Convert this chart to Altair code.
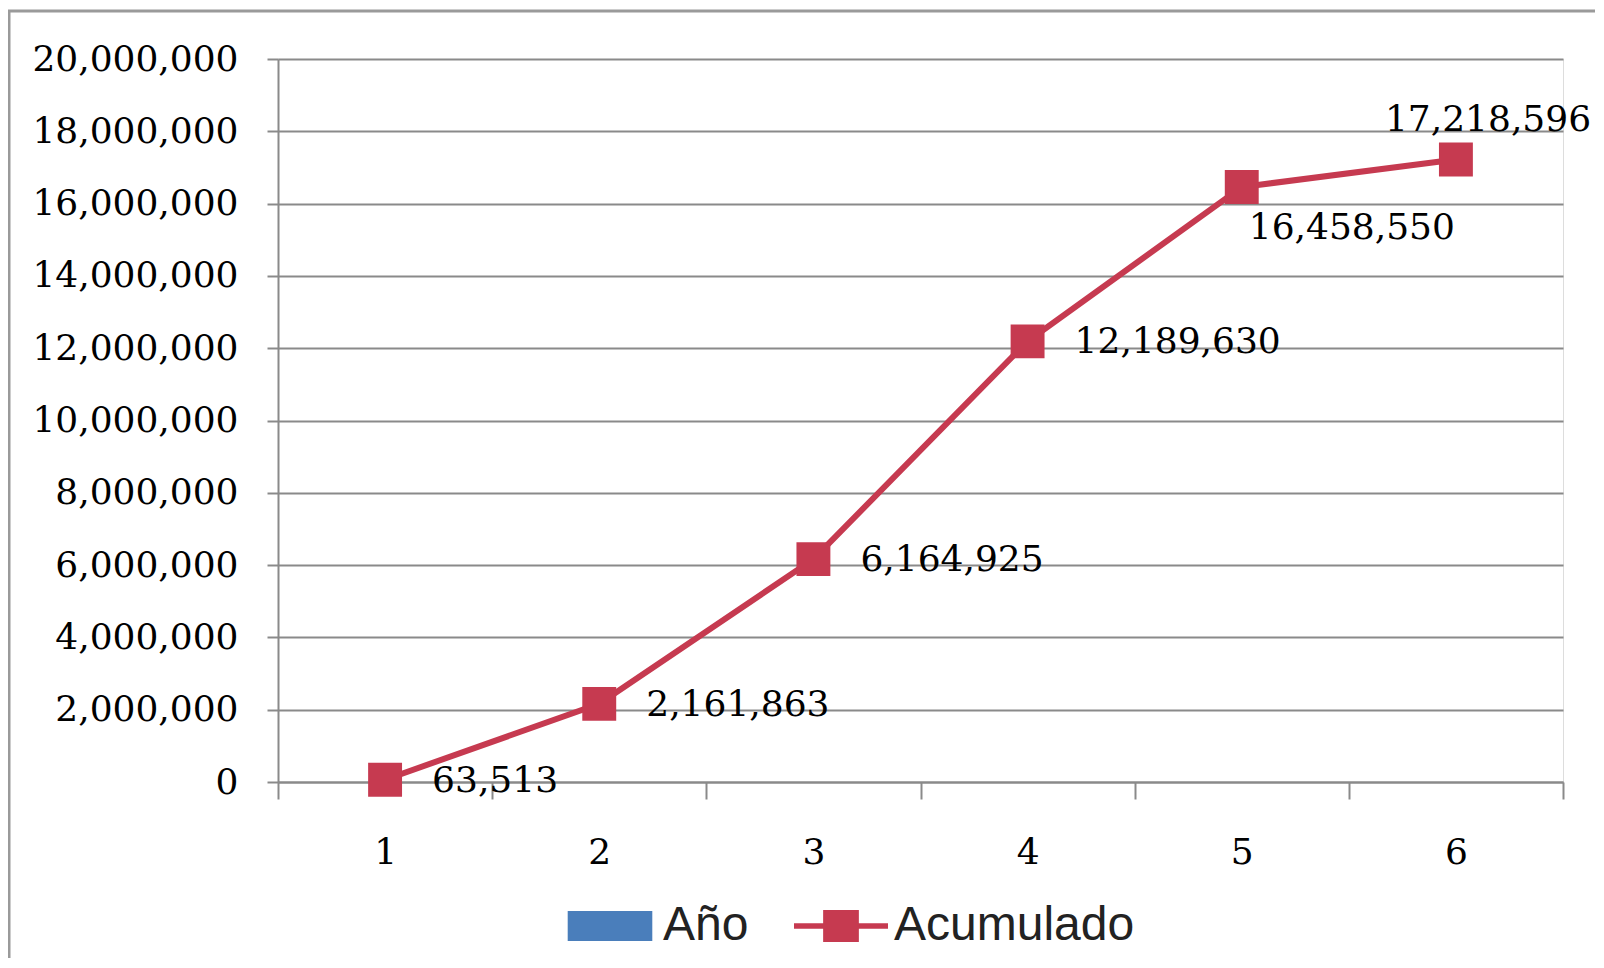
import altair as alt
import pandas as pd

# ---- data ----
periodos = ["1", "2", "3", "4", "5", "6"]
acumulado = [63513, 2161863, 6164925, 12189630, 16458550, 17218596]
posicion_etiqueta = ["right", "right", "right", "right", "below", "above"]
series = ["Año", "Acumulado"]
y_ticks = [0, 2000000, 4000000, 6000000, 8000000, 10000000,
           12000000, 14000000, 16000000, 18000000, 20000000]

df = pd.DataFrame({"periodo": periodos, "valor": acumulado, "pos": posicion_etiqueta})

W, H = 1285, 723
RED = "#C63A50"
BLUE = "#4A7EBB"
GRID = "#8a8a8a"
TXT = "#000000"
SERIF = "DejaVu Serif"

x_enc = alt.X(
    "periodo:N", sort=periodos, title=None,
    scale=alt.Scale(type="band", paddingInner=0, paddingOuter=0),
    axis=alt.Axis(labelAngle=0, tickBand="extent", domainColor=GRID, domainWidth=2,
                  tickColor=GRID, tickWidth=2, tickSize=17, grid=False,
                  labelFont=SERIF, labelFontSize=36, labelColor=TXT,
                  labelBaseline="middle", labelPadding=53),
)
y_enc = alt.Y(
    "valor:Q", title=None,
    scale=alt.Scale(domain=[0, 20000000], nice=False),
    axis=alt.Axis(values=y_ticks, labelExpr="format(datum.value, ',')",
                  grid=True, gridColor=GRID, gridWidth=2,
                  domainColor=GRID, domainWidth=2, tickColor=GRID, tickWidth=2,
                  tickSize=11, labelFont=SERIF, labelFontSize=36, labelColor=TXT,
                  labelPadding=29, labelLimit=400),
)

base = alt.Chart(df).encode(x=x_enc, y=y_enc)

line = base.mark_line(color=RED, strokeWidth=6)
points = base.mark_square(color=RED, size=1150, opacity=1)

txt_style = dict(font=SERIF, fontSize=36, color=TXT, baseline="middle")
text_r = base.transform_filter(alt.datum.pos == "right").mark_text(
    align="left", dx=47, dy=1, **txt_style).encode(text=alt.Text("valor:Q", format=","))
text_b = base.transform_filter(alt.datum.pos == "below").mark_text(
    align="left", dx=7, dy=41, **txt_style).encode(text=alt.Text("valor:Q", format=","))
text_a = base.transform_filter(alt.datum.pos == "above").mark_text(
    align="left", dx=-71, dy=-40, **txt_style).encode(text=alt.Text("valor:Q", format=","))

leg = dict(title=None, orient="none", legendX=285, legendY=820,
           direction="horizontal", symbolSize=8836, symbolStrokeWidth=0,
           labelFont="Liberation Sans", labelFontSize=48, labelColor="#222222",
           labelOffset=6, columnPadding=45, symbolOpacity=1, labelLimit=600)

# legend-only layer (no rows): legend built from the colour / shape scales
legend_layer = alt.Chart(alt.Data(values=[])).mark_point(filled=True, opacity=1).encode(
    color=alt.Color("serie:N", scale=alt.Scale(domain=series, range=[BLUE, RED]),
                    legend=alt.Legend(**leg)),
    shape=alt.Shape("serie:N", scale=alt.Scale(
        domain=series,
        range=["M-0.9,-0.32H0.9V0.32H-0.9Z",
               "M-1,-0.06H1V0.06H-1Z M-0.38,-0.34H0.38V0.34H-0.38Z"]),
        legend=alt.Legend(**leg)),
)

# outer frame of the picture
frame = alt.Chart(pd.DataFrame({"k": [0]})).mark_rect(
    filled=False, stroke="#9a9a9a", strokeWidth=3).encode(
    x=alt.value(-269), x2=alt.value(1500), y=alt.value(-48), y2=alt.value(1100))

chart = alt.layer(frame, line, points, text_r, text_b, text_a, legend_layer).properties(
    width=W, height=H,
    padding={"left": 270, "top": 51, "right": 32, "bottom": 176},
    autosize=alt.AutoSizeParams(type="none"),
).configure_view(stroke=None).configure(background="white")

chart.save("out.html", embed_options={"renderer": "svg", "actions": False})
